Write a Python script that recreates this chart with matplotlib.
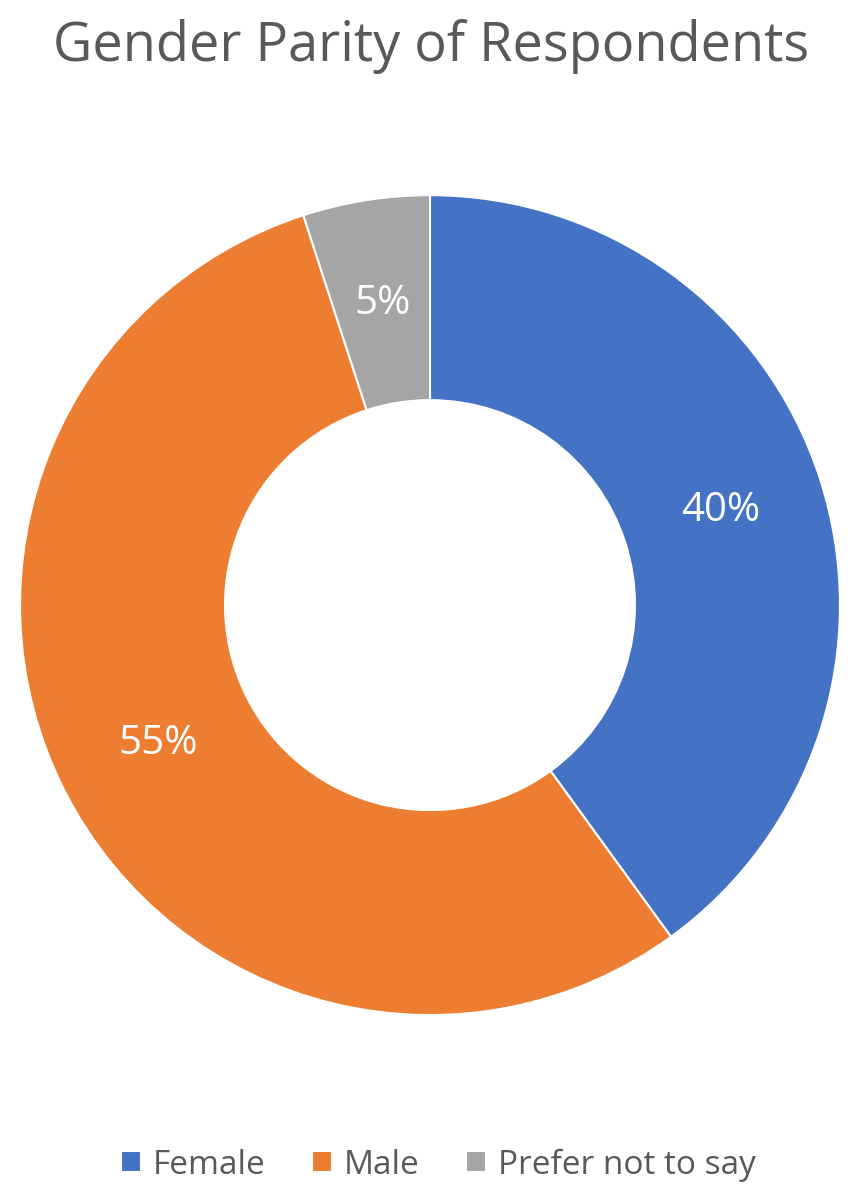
import matplotlib.pyplot as plt

labels = ['Female', 'Male', 'Prefer not to say']
values = [40, 55, 5]
colors = ['#4472C4', '#ED7D31', '#A5A5A5']

plt.rcParams['font.family'] = ['Open Sans', 'DejaVu Sans']

fig = plt.figure(figsize=(8.51, 11.9), dpi=100)
ax = fig.add_axes([0.0235, 0.147, 0.9636, 0.689])

wedges, texts, autotexts = ax.pie(values, colors=colors, startangle=90, counterclock=False,
                                  autopct='%1.0f%%', pctdistance=0.745,
                                  wedgeprops=dict(width=0.5, edgecolor='white', linewidth=1.5),
                                  textprops=dict(color='white', fontsize=29))
ax.set_xlim(-1, 1)
ax.set_ylim(-1, 1)
ax.set_aspect('equal')

fig.text(0.506, 0.961, 'Gender Parity of Respondents', ha='center', va='center',
         fontsize=39, color='#595959')

fig.legend(wedges, labels, loc='center', bbox_to_anchor=(0.515, 0.021), ncol=3, frameon=False,
           fontsize=24, labelcolor='#595959', handlelength=0.6, handleheight=0.6,
           handletextpad=0.35, columnspacing=1.4)

fig.savefig('out.png', dpi=100)
